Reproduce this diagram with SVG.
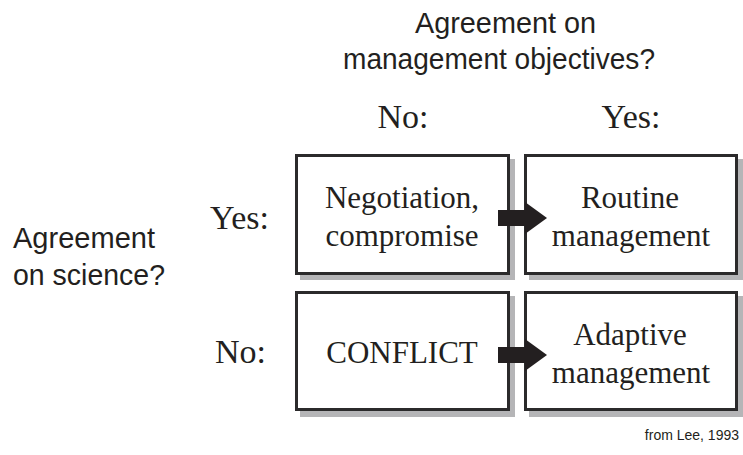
<svg xmlns="http://www.w3.org/2000/svg" width="743" height="455" viewBox="0 0 743 455">
<style>
.sans{font-family:"Liberation Sans",Arial,sans-serif;fill:#231f20}
.serif{font-family:"Liberation Serif","Times New Roman",serif;fill:#231f20}
.shadow{fill:#b5b5b7}
.box{fill:#fff;stroke:#2b2a2b;stroke-width:3}
.arrow{fill:#231f20}
</style>
<rect width="743" height="455" fill="#fff"/>
<g id="header">
<text class="sans" font-size="30" x="415" y="33" textLength="181" lengthAdjust="spacingAndGlyphs">Agreement on</text>
<text class="sans" font-size="30" x="343" y="69" textLength="312" lengthAdjust="spacingAndGlyphs">management objectives?</text>
<text class="serif" font-size="34" x="403" y="128" text-anchor="middle">No:</text>
<text class="serif" font-size="34" x="631" y="128" text-anchor="middle">Yes:</text>
</g>
<g id="side">
<text class="sans" font-size="30" x="13" y="248" textLength="142" lengthAdjust="spacingAndGlyphs">Agreement</text>
<text class="sans" font-size="30" x="13" y="285" textLength="152" lengthAdjust="spacingAndGlyphs">on science?</text>
<text class="serif" font-size="34" x="269" y="229" text-anchor="end">Yes:</text>
<text class="serif" font-size="34" x="266" y="363" text-anchor="end">No:</text>
</g>
<g id="node-negotiation">
<rect class="shadow" x="300" y="159" width="215" height="121"/>
<rect class="box" x="296.5" y="155.5" width="212" height="118"/>
<text class="serif" font-size="31" x="402" y="208" text-anchor="middle">Negotiation,</text>
<text class="serif" font-size="31" x="402" y="246" text-anchor="middle">compromise</text>
</g>
<g id="node-routine">
<rect class="shadow" x="529" y="159" width="215" height="121"/>
<rect class="box" x="525.5" y="155.5" width="211" height="118"/>
<text class="serif" font-size="31" x="630" y="208" text-anchor="middle">Routine</text>
<text class="serif" font-size="31" x="631" y="246" text-anchor="middle">management</text>
</g>
<g id="node-conflict">
<rect class="shadow" x="300" y="296" width="215" height="121"/>
<rect class="box" x="296.5" y="292.5" width="212" height="117"/>
<text class="serif" font-size="31" x="402" y="363" text-anchor="middle">CONFLICT</text>
</g>
<g id="node-adaptive">
<rect class="shadow" x="529" y="296" width="215" height="121"/>
<rect class="box" x="525.5" y="292.5" width="211" height="117"/>
<text class="serif" font-size="31" x="630" y="345" text-anchor="middle">Adaptive</text>
<text class="serif" font-size="31" x="631" y="383" text-anchor="middle">management</text>
</g>
<g id="connectors">
<polygon class="arrow" points="498,210 525,210 525,202 547,218 525,234 525,226 498,226"/>
<polygon class="arrow" points="498,347 525,347 525,339 547,355 525,371 525,363 498,363"/>
</g>
<g id="credit">
<text class="sans" font-size="14" x="739" y="440" text-anchor="end">from Lee, 1993</text>
</g>
</svg>
